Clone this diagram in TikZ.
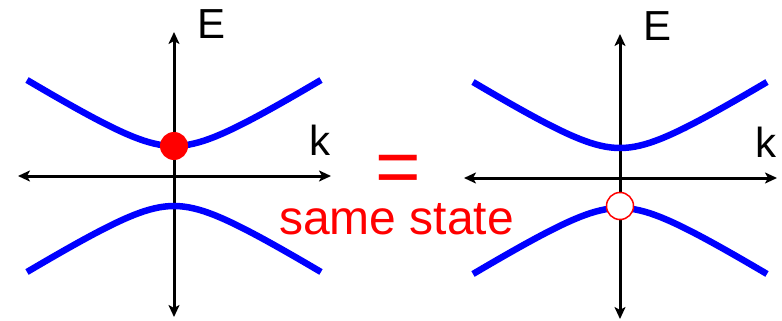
\documentclass[tikz,border=0pt]{standalone}
\usepackage{fontspec}
\setmainfont{Liberation Sans}
\usetikzlibrary{arrows.meta}

\begin{document}
\begin{tikzpicture}[x=1pt,y=-1pt,
  axis/.style={line width=3pt, {Stealth[length=12pt,width=11pt,inset=3pt]}-{Stealth[length=12pt,width=11pt,inset=3pt]}},
  band/.style={line width=6.5pt, blue},
  lbl/.style={inner sep=0pt, font=\fontsize{42}{42}\selectfont}]
  \useasboundingbox (0,0) rectangle (782,321);
  % the two band pictures
  \foreach \p/\ox/\oy in {L/174/176, R/620/178} {
    \begin{scope}[shift={(\ox,\oy)}]
      \coordinate (\p-w) at (-156,0);
      \coordinate (\p-e) at (157,0);
      \coordinate (\p-n) at (0,-144);
      \coordinate (\p-s) at (0,141);
      \draw[axis] (\p-w) -- (\p-e);
      \draw[axis] (\p-s) -- (\p-n);
      \draw[band] plot[domain=-1.47:1.47, samples=61] ({100*\x}, {-100*sqrt(0.09+0.3848*\x*\x)});
      \draw[band] plot[domain=-1.47:1.47, samples=61] ({100*\x}, {100*sqrt(0.09+0.3848*\x*\x)});
      \node[lbl] (\p-E) at (38,-152) {E};
      \node[lbl] (\p-k) at (146,-36) {k};
    \end{scope}
  }
  % filled state and empty state
  \node[circle, fill=red, minimum size=28pt, inner sep=0pt] (full) at (174,146) {};
  \node[circle, draw=red, line width=1.5pt, fill=white, minimum size=27pt, inner sep=0pt] (hole) at (620,206) {};
  \node[red, inner sep=0pt, font=\fontsize{78}{78}\selectfont] (eq) at (398,174) {=};
  \node[red, inner sep=0pt, anchor=base, font=\fontsize{48}{48}\selectfont] (same) at (396.5,234) {same state};
\end{tikzpicture}
\end{document}
